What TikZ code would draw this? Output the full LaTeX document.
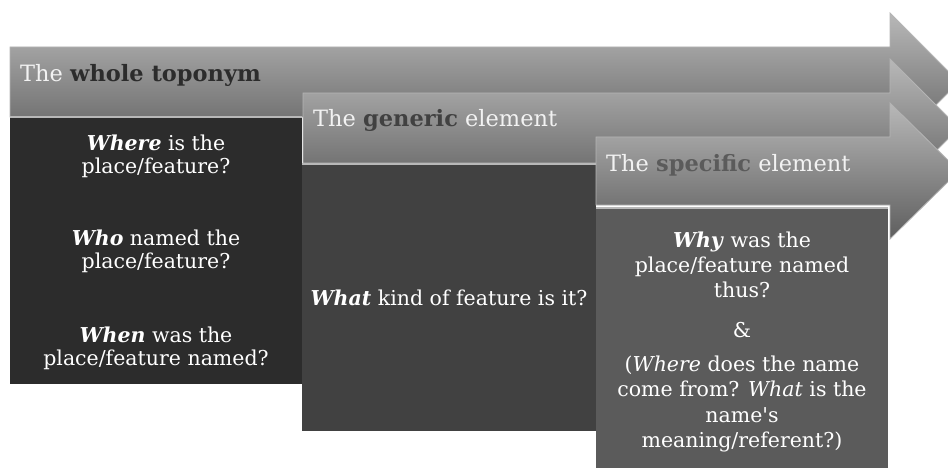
\documentclass[tikz,border=0pt]{standalone}
\usepackage{fontspec}
\setmainfont{DejaVu Serif}[Ligatures=TeXOff]
\begin{document}
\begin{tikzpicture}[x=1pt,y=-1pt,
  arrowshape/.style={top color=arrtop,bottom color=arrbot,draw=arredge,line width=0.8pt},
  boxtext/.style={text=white,align=center,font=\fontsize{20.5}{23}\selectfont,inner sep=0pt},
  titletext/.style={anchor=west,font=\fontsize{22.5}{26}\selectfont,inner sep=0pt,text=titlewhite},
  topline/.style={draw=lineedge,line width=1.6pt}]
\definecolor{arrtop}{HTML}{B8B8B8}
\definecolor{arrbot}{HTML}{5E5E5E}
\definecolor{arredge}{HTML}{B4B4B4}
\definecolor{lineedge}{HTML}{B8B8B8}
\definecolor{boxa}{HTML}{2C2C2C}
\definecolor{boxb}{HTML}{414141}
\definecolor{boxc}{HTML}{5B5B5B}
\definecolor{titlewhite}{HTML}{F2F2F2}
\useasboundingbox (0,0) rectangle (948,468);
\clip (0,0) rectangle (948,468);
\fill[white] (0,0) rectangle (948,468);
% arrow 1 and box 1
\shade[arrowshape] (10,47) -- (890,47) -- (890,13) -- (959,82) -- (890,151) -- (890,117) -- (10,117) -- cycle;
\fill[boxa] (10,117) rectangle (302,384);
\draw[topline] (10,117) -- (302,117);
% arrow 2 and box 2
\shade[arrowshape] (303,93) -- (890,93) -- (890,59) -- (959,128) -- (890,197) -- (890,163) -- (303,163) -- cycle;
\fill[boxb] (302,164) rectangle (596,431);
\draw[topline] (302,164) -- (596,164);
% arrow 3 and box 3
\shade[arrowshape] (596,137) -- (890,137) -- (890,103) -- (959,171) -- (890,239) -- (890,205) -- (596,205) -- cycle;
\fill[boxc] (596,208) rectangle (888,470);
\draw[topline] (596,208) -- (888,208);
% titles
\node[titletext] (t1) at (20,75) {The \textbf{\textcolor{boxa}{whole toponym}}};
\node[titletext] (t2) at (313,120) {The \textbf{\textcolor{boxb}{generic}} element};
\node[titletext] (t3) at (606,165) {The \textbf{\textcolor{boxc}{specific}} element};
% box 1 text
\node[boxtext] (q1) at (156,156) {\textbf{\textit{Where}} is the\\place/feature?};
\node[boxtext] (q2) at (156,251) {\textbf{\textit{Who}} named the\\place/feature?};
\node[boxtext] (q3) at (156,348) {\textbf{\textit{When}} was the\\place/feature named?};
% box 2 text
\node[boxtext] (q4) at (449,298) {\textbf{\textit{What}} kind of feature is it?};
% box 3 text
\node[boxtext,font=\fontsize{20.5}{25}\selectfont] (q5) at (742,265) {\textbf{\textit{Why}} was the\\place/feature named\\thus?};
\node[boxtext] (q6) at (742,330) {\&};
\node[boxtext,font=\fontsize{20.5}{25.3}\selectfont] (q7) at (742,404) {(\textit{Where} does the name\\come from? \textit{What} is the\\name's\\meaning/referent?)};
\end{tikzpicture}
\end{document}
